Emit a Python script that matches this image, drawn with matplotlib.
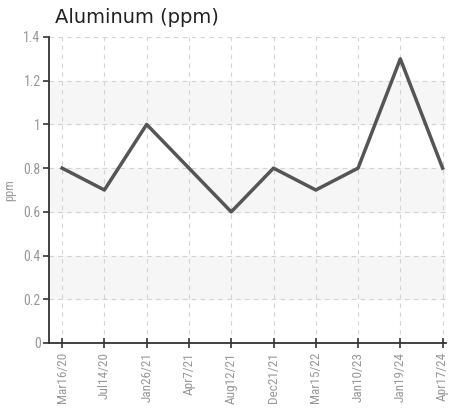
import matplotlib
matplotlib.use('Agg')
import matplotlib.pyplot as plt

dates = ['Mar16/20', 'Jul14/20', 'Jan26/21', 'Apr7/21', 'Aug12/21',
         'Dec21/21', 'Mar15/22', 'Jan10/23', 'Jan19/24', 'Apr17/24']
values = [0.8, 0.7, 1.0, 0.8, 0.6, 0.8, 0.7, 0.8, 1.3, 0.8]
yticks = [0, 0.2, 0.4, 0.6, 0.8, 1.0, 1.2, 1.4]
ytick_labels = ['0', '0.2', '0.4', '0.6', '0.8', '1', '1.2', '1.4']

tick_font = 'Roboto Condensed'

fig = plt.figure(figsize=(4.49, 4.12), dpi=100)
ax = fig.add_axes([49/449, 1 - 343/412, (446 - 49)/449, (343 - 37)/412])

# alternating bands
for lo in [0.2, 0.6, 1.0]:
    ax.axhspan(lo, lo + 0.2, color='#f6f6f6', zorder=0)

x = list(range(len(dates)))
ax.plot(x, values, color='#555555', linewidth=2.5, zorder=3)

ax.set_xlim(-0.31, 9.08)
ax.set_ylim(0, 1.4)
ax.set_yticks(yticks)
ax.set_yticklabels(ytick_labels, fontfamily=tick_font, fontsize=10, color='#999999')
ax.set_xticks(x)
ax.set_xticklabels(dates, rotation=90, fontfamily=tick_font, fontsize=9.5, color='#999999')

ax.grid(True, color='#d3d3d3', linestyle=(0, (4, 4)), linewidth=0.8, zorder=1)
ax.set_axisbelow(True)

for s in ['top', 'right']:
    ax.spines[s].set_visible(False)
for s in ['left', 'bottom']:
    ax.spines[s].set_color('#333333')
    ax.spines[s].set_linewidth(1.3)

ax.tick_params(axis='y', length=4, width=1.2, color='#333333', pad=2)
ax.tick_params(axis='x', direction='inout', length=7, width=1.2, color='#333333', pad=3)

ax.set_ylabel('ppm', fontfamily=tick_font, fontsize=9, color='#999999', labelpad=5)

fig.text(55/449, 1 - 23/412, 'Aluminum (ppm)', fontsize=14, color='#222222',
         va='baseline', ha='left')

fig.savefig('out.png', dpi=100)
